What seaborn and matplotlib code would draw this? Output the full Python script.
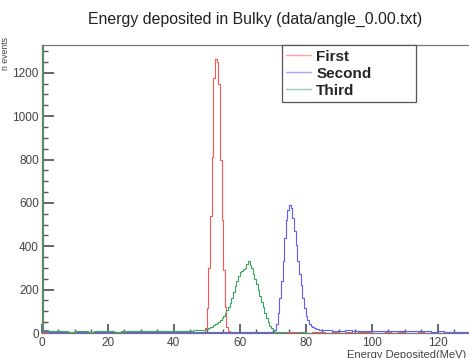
import numpy as np
import pandas as pd
import seaborn as sns
import matplotlib.pyplot as plt
from matplotlib.lines import Line2D
from matplotlib.ticker import MultipleLocator

# counts per bin
# bins are 0.5 MeV around the peaks and 2 MeV over the flat tails
red_low = [2, 3, 1, 0, 1, 0, 1, 1, 0, 1, 0, 1, 1, 0, 1, 1, 0, 1, 1, 2, 1, 2, 2, 3, 3]
red_peak = [3, 4, 3, 25, 115, 300, 540, 810, 1175, 1265, 1250, 1150, 800, 520,
            290, 120, 28, 9, 5, 4]
red_high = [4, 3, 3, 4, 2, 3, 3, 2, 3, 4, 3, 2, 3, 3, 2, 3, 2, 3, 2, 3,
            3, 2, 2, 3, 2, 3, 2, 2, 3, 2, 3, 2, 3, 3, 4, 3]

green_low = [5000, 15, 9, 7, 8, 6, 7, 8, 6, 7, 8, 7, 6, 8, 7, 9, 8, 7, 9, 8,
             10, 9, 11, 10, 12]
green_peak = [12, 14, 16, 18, 20, 23, 26, 30, 35, 40, 46, 52, 60, 68, 78, 90,
              104, 120, 140, 162, 188, 215, 242, 265, 280, 288, 293, 298, 318, 330,
              312, 300, 270, 250, 228, 200, 172, 145, 118, 92, 70, 50, 34, 22, 12,
              6, 4, 3]
green_high = [3, 2, 2, 3, 2, 2, 1, 2, 2, 1, 2, 2, 1, 2, 1, 2, 2, 1, 2, 1,
              2, 1, 1, 2, 1, 2, 1, 1, 2]

blue_low = [5000, 10, 5, 4, 5, 3, 4, 5, 3, 4, 4, 3, 5, 4, 3, 4, 5, 4, 3, 4,
            4, 5, 3, 4, 5, 6, 4, 5, 4, 5, 6, 5, 4, 5, 4, 3]
blue_peak = [3, 12, 40, 90, 160, 240, 330, 440, 520, 565, 588, 575, 530, 470,
             405, 330, 270, 220, 160, 115, 80, 58, 40, 32, 26, 22, 20, 18, 16, 15,
             14, 13]
blue_high = [12, 11, 10, 12, 9, 10, 11, 9, 10, 8, 9, 10, 8, 9, 7, 8, 6, 7, 5, 6, 4, 3]

labels = ["First", "Second", "Third"]
colors = ["#ff5555", "#5c5cff", "#3aa75c"]


def make_edges(pieces):
    edges = [pieces[0][0]]
    for start, stop, width in pieces:
        n = int(round((stop - start) / width))
        edges += [start + width * k for k in range(1, n + 1)]
    return edges


series = {
    "First": (make_edges([(0, 0.5, 0.5), (0.5, 2, 1.5), (2, 48, 2), (48, 58, 0.5), (58, 130, 2)]),
              red_low + red_peak + red_high),
    "Second": (make_edges([(0, 0.5, 0.5), (0.5, 2, 1.5), (2, 70, 2), (70, 86, 0.5), (86, 130, 2)]),
               blue_low + blue_peak + blue_high),
    "Third": (make_edges([(0, 0.5, 0.5), (0.5, 2, 1.5), (2, 48, 2), (48, 72, 0.5), (72, 130, 2)]),
              green_low + green_peak + green_high),
}

sns.set_theme(style="white")
plt.rcParams["font.family"] = ["Liberation Sans", "DejaVu Sans"]

fig = plt.figure(figsize=(4.69, 3.58), dpi=100)
ax = fig.add_axes([0.0889, 0.0698, 0.9145, 0.8045])

for name in labels:
    edges, counts = series[name]
    e = np.array(edges)
    df = pd.DataFrame({"energy": (e[:-1] + e[1:]) / 2, "count": counts})
    sns.histplot(data=df, x="energy", weights="count", bins=edges, element="step",
                 fill=False, color=colors[labels.index(name)], linewidth=0.8, ax=ax)

ax.set_xlim(0, 130)
ax.set_ylim(0, 1328)
ax.set_xlabel("")
ax.set_ylabel("")

ax.xaxis.set_major_locator(MultipleLocator(20))
ax.xaxis.set_minor_locator(MultipleLocator(5))
ax.yaxis.set_major_locator(MultipleLocator(200))
ax.yaxis.set_minor_locator(MultipleLocator(50))
ax.tick_params(axis="both", which="both", direction="in", color="#555555",
               labelcolor="#444444", labelsize=8.5, top=False, right=False,
               bottom=True, left=True)
ax.tick_params(axis="x", which="major", length=6.2, pad=3)
ax.tick_params(axis="x", which="minor", length=3.1)
ax.tick_params(axis="y", which="major", length=8.6, pad=2)
ax.tick_params(axis="y", which="minor", length=4.3)

ax.spines["right"].set_visible(False)
for s in ["left", "top", "bottom"]:
    ax.spines[s].set_color("#777777")
    ax.spines[s].set_linewidth(0.9)

handles = [Line2D([], [], color=c, linewidth=1, alpha=0.55) for c in colors]
leg = ax.legend(handles, labels, loc="upper left", bbox_to_anchor=(0.56, 0.809, 0.313, 0.191),
                mode="expand", borderaxespad=0, frameon=True, fancybox=False,
                edgecolor="#555555", framealpha=1, prop={"weight": "bold", "size": 11},
                handlelength=1.6, handletextpad=0.35, labelspacing=0.2, borderpad=0.3)
leg.get_frame().set_linewidth(0.9)

fig.text(0.544, 0.947, "Energy deposited in Bulky (data/angle_0.00.txt)",
         ha="center", va="center", fontsize=11.4, color="#222222")
fig.text(466 / 469, 1 - 354.5 / 358, "Energy Deposited(MeV)", ha="right", va="center",
         fontsize=8, color="#444444")
fig.text(6 / 469, 1 - 37 / 358, "n events", ha="center", va="top", rotation=90,
         fontsize=6.3, color="#444444")

fig.savefig("out.png", dpi=100)
